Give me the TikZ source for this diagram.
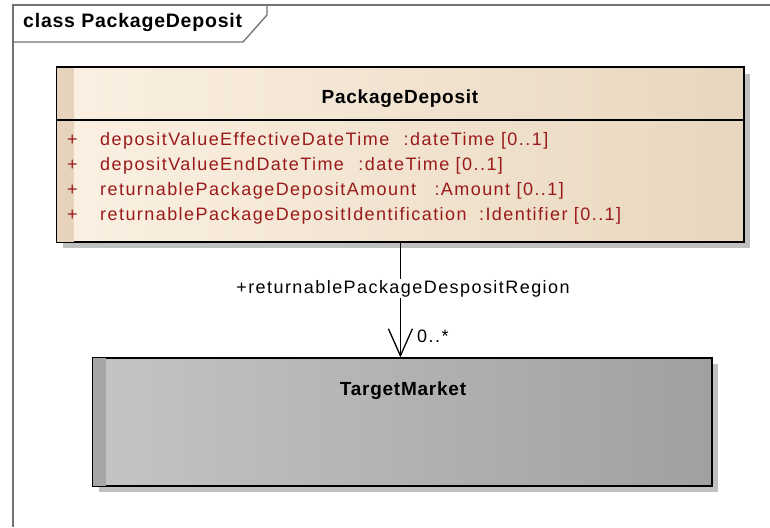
\documentclass[tikz,border=0pt]{standalone}
\usepackage{fontspec}
\setmainfont{Liberation Sans}
\newfontfamily\umlfont{Liberation Sans}[LetterSpace=8]
\newfontfamily\umlbold{Liberation Sans}[LetterSpace=4]
\usetikzlibrary{arrows.meta,shadows}

\definecolor{classlight}{HTML}{FBF0E2}
\definecolor{classdark}{HTML}{E8D7BF}
\definecolor{classstrip}{HTML}{E5D3BB}
\definecolor{marketlight}{HTML}{C4C4C4}
\definecolor{marketdark}{HTML}{A0A0A0}
\definecolor{marketstrip}{HTML}{A6A6A6}
\definecolor{shadowgrey}{HTML}{C0C0C0}
\definecolor{attrred}{HTML}{9A1A1A}
\definecolor{framegrey}{HTML}{737373}

\begin{document}
\begin{tikzpicture}[x=1pt,y=-1pt,
  umlclass/.style={draw=black,line width=1.3pt,inner sep=0pt,
    drop shadow={fill=shadowgrey,opacity=1,shadow xshift=6pt,shadow yshift=-6pt}},
  classtitle/.style={font=\umlbold\fontsize{19}{22}\selectfont\bfseries,inner sep=0pt,anchor=base},
  attr/.style={font=\umlfont\fontsize{18}{20}\selectfont,text=attrred,inner sep=0pt,anchor=base west},
  role/.style={font=\umlfont\fontsize{18}{20}\selectfont,inner sep=0pt,anchor=base}]
\useasboundingbox (0,0) rectangle (770,527);

% diagram frame
\draw[framegrey,line width=1.8pt] (13,527) -- (13,5) -- (770,5);
\draw[framegrey,line width=1.3pt] (13,42) -- (243,42) -- (267,15) -- (267,5);
\node[font=\umlbold\fontsize{19.5}{22}\selectfont\bfseries,inner sep=0pt,anchor=base west]
  (frametitle) at (23,28) {class PackageDeposit};

% PackageDeposit
\node[umlclass,left color=classlight,right color=classdark,
  minimum width=687pt,minimum height=174pt] (pd) at (400.4,154.5) {};
\fill[classstrip] (pd.north west) rectangle ([xshift=18pt]pd.south west);
\draw[line width=1.3pt] (pd.north west) rectangle (pd.south east);
\draw[line width=1.3pt] ([yshift=-53pt]pd.north west) -- ([yshift=-53pt]pd.north east);
\node[classtitle] (pdtitle) at (400,103) {PackageDeposit};

\foreach \attrtext [count=\i] in {
  {depositValueEffectiveDateTime\hspace{8pt} :dateTime [0..1]},
  {depositValueEndDateTime\hspace{8pt} :dateTime [0..1]},
  {returnablePackageDepositAmount\hspace{12pt} :Amount [0..1]},
  {returnablePackageDepositIdentification\hspace{6pt} :Identifier [0..1]}}
  \node[attr] (attr\i) at (67,{145+25*(\i-1)}) {\makebox[33pt][l]{+}\attrtext};

% TargetMarket
\node[umlclass,left color=marketlight,right color=marketdark,
  minimum width=619pt,minimum height=128pt] (tm) at (402.5,422) {};
\fill[marketstrip] (tm.north west) rectangle ([xshift=14pt]tm.south west);
\draw[line width=1.3pt] (tm.north west) rectangle (tm.south east);
\node[classtitle] (tmtitle) at (403,395) {TargetMarket};

% association
\draw[line width=1pt,-{Straight Barb[length=27pt,width=24pt,line width=1.3pt]}]
  (pd.south) -- (pd.south |- tm.north);
\node[role,fill=white,inner sep=1pt] (rolename) at (403,293) {+returnablePackageDespositRegion};
\node[role,anchor=base west] (mult) at (417,342) {0..*};
\end{tikzpicture}
\end{document}
